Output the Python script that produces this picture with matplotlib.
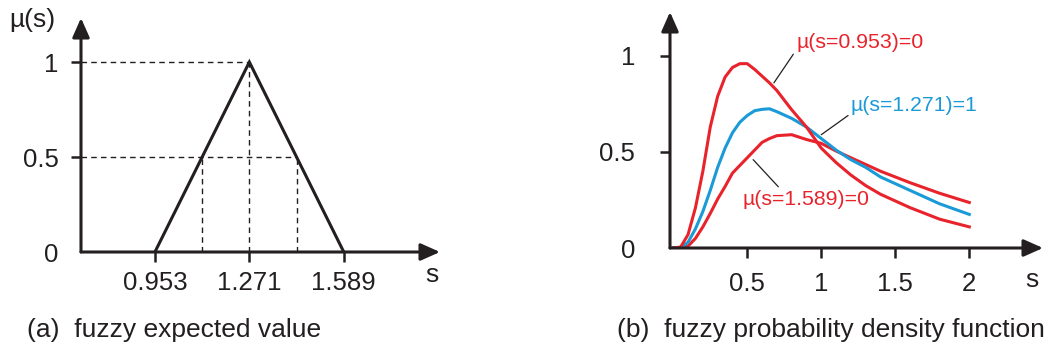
import matplotlib.pyplot as plt

plt.rcParams['font.family'] = ['Liberation Sans', 'DejaVu Sans']

# (a) triangular fuzzy expected value
tri_s = [0.953, 1.271, 1.589]
tri_mu = [0, 1, 0]
a_xticks = [0.953, 1.271, 1.589]
a_yticks = [0, 0.5, 1]
a_yticklabels = ['0', '0.5', '1']

# (b) fuzzy pdf curves
s = [0.0, 0.05, 0.1, 0.15, 0.2, 0.25, 0.3, 0.35, 0.4, 0.45, 0.5, 0.55, 0.6, 0.65, 0.7,
     0.8, 0.9, 1.0, 1.1, 1.2, 1.3, 1.4, 1.6, 1.8, 2.0]
pdf_lo = [0.0, 0.005, 0.07, 0.21, 0.40, 0.63, 0.79, 0.89, 0.94, 0.96, 0.96, 0.93, 0.895,
          0.86, 0.82, 0.72, 0.63, 0.52, 0.445, 0.38, 0.325, 0.28, 0.21, 0.15, 0.11]
pdf_mid = [0.0, 0.0, 0.03, 0.10, 0.19, 0.30, 0.42, 0.52, 0.60, 0.655, 0.69, 0.715, 0.722,
           0.725, 0.71, 0.675, 0.63, 0.57, 0.51, 0.46, 0.42, 0.37, 0.30, 0.23, 0.175]
pdf_hi = [0.0, 0.0, 0.01, 0.05, 0.11, 0.18, 0.255, 0.32, 0.39, 0.43, 0.47, 0.51, 0.55,
          0.57, 0.585, 0.59, 0.565, 0.545, 0.505, 0.47, 0.435, 0.40, 0.34, 0.285, 0.237]
b_xticks = [0.5, 1, 1.5, 2]
b_xticklabels = ['0.5', '1', '1.5', '2']
b_yticks = [0, 0.5, 1]

red = '#E8232B'
blue = '#1A9AD7'
ink = '#231F20'
W, H = 1050, 350

fig = plt.figure(figsize=(10.5, 3.5), dpi=100)


def axes_px(x0, x1, y0, y1):
    # pixel box -> figure fraction (y measured from the top)
    return fig.add_axes([x0 / W, (H - y1) / H, (x1 - x0) / W, (y1 - y0) / H])


def arrow_axes(ax, x0, x1, y0, y1):
    kw = dict(arrowstyle='-|>,head_length=0.9,head_width=0.4', color=ink, lw=2.2,
              shrinkA=0, shrinkB=0, mutation_scale=13)
    ax.annotate('', xy=(x1, y0), xytext=(x0, y0), arrowprops=kw, annotation_clip=False)
    ax.annotate('', xy=(x0, y1), xytext=(x0, y0), arrowprops=kw, annotation_clip=False)
    for sp in ax.spines.values():
        sp.set_visible(False)
    ax.patch.set_visible(False)


# ---- panel (a)
ax1 = axes_px(81, 440, 18, 252)
ax1.set_xlim(0.704, 1.913)
ax1.set_ylim(0, 1.232)
arrow_axes(ax1, 0.704, 1.913, 0, 1.232)

ax1.plot(tri_s, tri_mu, color=ink, lw=2.2, solid_joinstyle='miter')
dash = dict(color=ink, lw=1.0, ls=(0, (4, 3)))
half_l = (tri_s[0] + tri_s[1]) / 2
half_r = (tri_s[1] + tri_s[2]) / 2
ax1.plot([0.704, tri_s[1]], [1, 1], **dash)
ax1.plot([0.704, half_r], [0.5, 0.5], **dash)
ax1.plot([half_l, half_l], [0, 0.5], **dash)
ax1.plot([tri_s[1], tri_s[1]], [0, 1], **dash)
ax1.plot([half_r, half_r], [0, 0.5], **dash)

ax1.set_xticks(a_xticks)
ax1.set_xticklabels(['%.3f' % v for v in a_xticks])
ax1.set_yticks(a_yticks)
ax1.set_yticklabels(a_yticklabels)
ax1.tick_params(axis='x', length=7, width=1.8, pad=7, labelsize=18.5, colors=ink)
ax1.tick_params(axis='y', length=7, width=1.8, pad=9, labelsize=18.5, colors=ink)
ax1.yaxis.get_major_ticks()[0].tick1line.set_visible(False)

fig.text(432 / W, 1 - 275 / H, 's', fontsize=19, ha='center', va='center', color=ink)
fig.text(32 / W, 1 - 20 / H, 'µ(s)', fontsize=19, ha='center', va='center', color=ink)
fig.text(27 / W, 1 - 330 / H, '(a)  fuzzy expected value', fontsize=19, ha='left',
         va='center', color=ink)

# ---- panel (b)
ax2 = axes_px(670, 1043, 12, 248)
ax2.set_xlim(-0.022, 2.498)
ax2.set_ylim(0, 1.229)
arrow_axes(ax2, -0.022, 2.498, 0, 1.229)

ax2.plot(s, pdf_hi, color=red, lw=2.2)
ax2.plot(s, pdf_mid, color=blue, lw=2.2)
ax2.plot(s, pdf_lo, color=red, lw=2.2)

ax2.set_xticks(b_xticks)
ax2.set_xticklabels(b_xticklabels)
ax2.set_yticks(b_yticks)
ax2.set_yticklabels(['0', '0.5', '1'])
ax2.tick_params(axis='x', length=7, width=1.8, pad=10, labelsize=18.5, colors=ink)
ax2.tick_params(axis='y', length=7, width=1.8, pad=18, labelsize=18.5, colors=ink)
ax2.yaxis.get_major_ticks()[0].tick1line.set_visible(False)

fig.text(1032 / W, 1 - 280 / H, 's', fontsize=19, ha='center', va='center', color=ink)

# curve labels with leader lines (positions in axes data units)
ax2.annotate('µ(s=0.953)=0', xy=(0.68, 0.86), xytext=(0.83, 1.07), color=red, fontsize=15.3,
             ha='left', va='center',
             arrowprops=dict(arrowstyle='-', color=ink, lw=0.9, shrinkA=0, shrinkB=0,
                             relpos=(0, 0.1)))
ax2.annotate('µ(s=1.271)=1', xy=(1.00, 0.59), xytext=(1.20, 0.74), color=blue, fontsize=15.3,
             ha='left', va='center',
             arrowprops=dict(arrowstyle='-', color=ink, lw=0.9, shrinkA=0, shrinkB=0,
                             relpos=(0, 0.1)))
ax2.annotate('µ(s=1.589)=0', xy=(0.54, 0.46), xytext=(0.47, 0.255), color=red, fontsize=15.3,
             ha='left', va='center',
             arrowprops=dict(arrowstyle='-', color=ink, lw=0.9, shrinkA=0, shrinkB=0,
                             relpos=(0.3, 1.0)))

fig.text(617 / W, 1 - 330 / H, '(b)  fuzzy probability density function', fontsize=19,
         ha='left', va='center', color=ink)

fig.savefig('out.png', dpi=100)
